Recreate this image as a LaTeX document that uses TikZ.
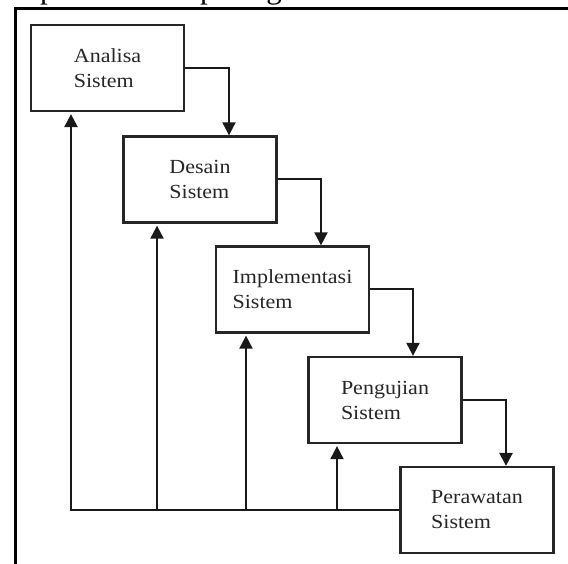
\documentclass[tikz,border=0pt]{standalone}
\usepackage{fontspec}
\setmainfont{Liberation Serif}
\newfontfamily\boxfont[FakeStretch=1.1]{Liberation Serif}
\usetikzlibrary{arrows.meta}
\begin{document}
\begin{tikzpicture}[x=1pt,y=-1pt,
  stage/.style={draw=black!85,line width=2.3pt,minimum width=153pt,minimum height=86pt,
    inner sep=0pt,align=left,text=black!85,font=\boxfont\fontsize{20pt}{25pt}\selectfont},
  flow/.style={draw=black!90,line width=2pt,-{Triangle[width=13pt,length=13pt]}},
  frame/.style={draw=black,line width=3.4pt}]
\useasboundingbox (0,0) rectangle (568,564);
\clip (0,0) rectangle (568,564);
% cut-off line of text above the frame
\node[anchor=base west,inner sep=0pt,font=\fontsize{31pt}{36pt}\selectfont] (top) at (14,-1) {seperti terlihat pada gambar berikut ini:};
% frame (top and left)
\coordinate (ftl) at (15.5,8.5);
\coordinate (ftr) at (570,8.5);
\coordinate (fbl) at (15.5,566);
\draw[frame] (ftr) -- (ftl) -- (fbl);
% stages
\node[stage] (A) at (107.5,68) {Analisa\\Sistem};
\node[stage] (D) at (200,179.5) {Desain\\Sistem};
\node[stage] (I) at (292.5,289.5) {Implementasi\\Sistem};
\node[stage] (P) at (385,400) {Pengujian\\Sistem};
\node[stage] (E) at (477,510) {Perawatan\\Sistem};
% forward flow
\draw[flow] (A.east) -| ([xshift=29pt]D.north);
\draw[flow] (D.east) -| ([xshift=28.5pt]I.north);
\draw[flow] (I.east) -| ([xshift=28pt]P.north);
\draw[flow,line width=2.6pt] (P.east) -| ([xshift=29pt]E.north);
% feedback
\draw[flow,line width=2.4pt] (E.west) -| ([xshift=-36.5pt,yshift=-2pt]A.south);
\draw[flow] ([xshift=-43pt]D.south |- E.west) -- ([xshift=-43pt,yshift=-2pt]D.south);
\draw[flow] ([xshift=-46.5pt]I.south |- E.west) -- ([xshift=-46.5pt,yshift=-2pt]I.south);
\draw[flow] ([xshift=-48pt]P.south |- E.west) -- ([xshift=-48pt,yshift=-2pt]P.south);
\end{tikzpicture}
\end{document}
